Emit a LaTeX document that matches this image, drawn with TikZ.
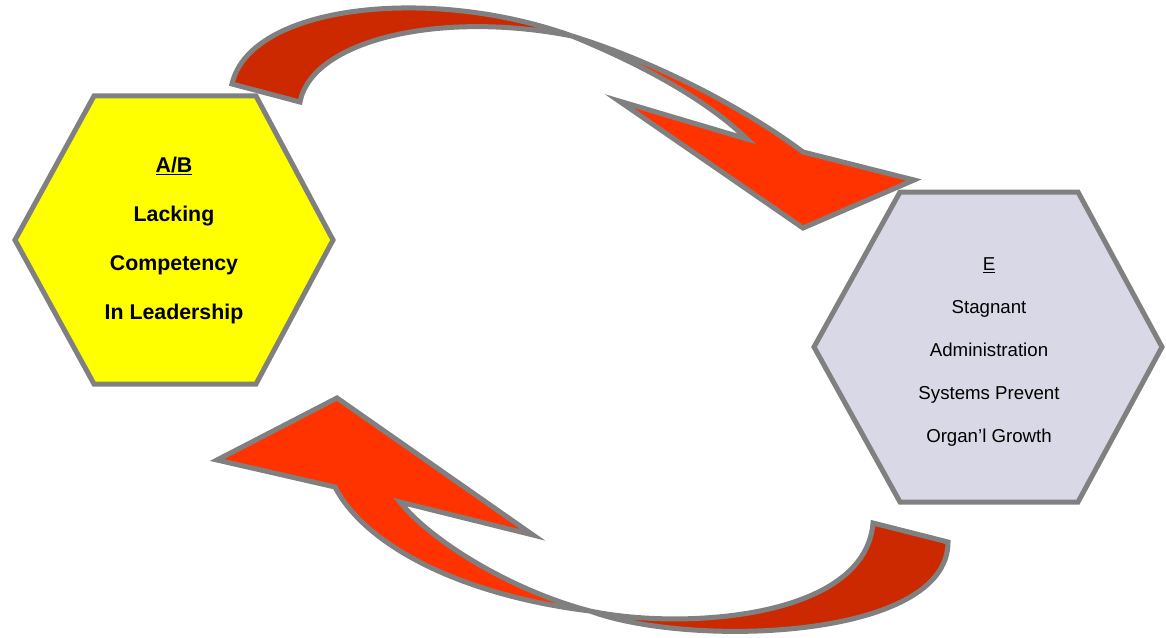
\documentclass[tikz,border=0pt]{standalone}
\usepackage{fontspec}
\setmainfont{Liberation Sans}
\definecolor{edgegray}{RGB}{128,128,128}
\definecolor{brightred}{RGB}{255,51,0}
\definecolor{darkred}{RGB}{204,41,0}
\definecolor{hexyellow}{RGB}{255,255,0}
\definecolor{hexlav}{RGB}{217,216,230}
\begin{document}
\begin{tikzpicture}[x=0.75pt,y=-0.75pt,
  outline/.style={draw=edgegray,line width=3.75pt,line join=miter,miter limit=10},
  hexbox/.style={draw=edgegray,line width=3.75pt,line join=miter},
  boldtext/.style={font=\fontsize{16}{36.75}\selectfont\bfseries,align=center,inner sep=0pt},
  plaintext/.style={font=\fontsize{14}{32.25}\selectfont,align=center,inner sep=0pt}]
\useasboundingbox (0,0) rectangle (1166,638);
% hexagons
\path[hexbox,fill=hexyellow] (94,96) -- (256,96) -- (333,240) -- (256,384) -- (94,384) -- (15,240) -- cycle;
\path[hexbox,fill=hexlav] (900,192) -- (1078,192) -- (1162,347) -- (1078,502) -- (900,502) -- (814,347) -- cycle;
% top arrow
\path[outline,fill=darkred] (232,84) .. controls (250,5) and (430,-15) .. (572,36)
  .. controls (440,10) and (312,40) .. (300,102) -- cycle;
\path[outline,fill=brightred] (572,36) .. controls (650,60) and (740,105) .. (803,152)
  -- (914,180) -- (803,228) -- (619,101) -- (747,139)
  .. controls (715,108) and (660,72) .. (572,36) -- cycle;
% bottom arrow
\path[outline,fill=brightred] (590,611) .. controls (460,595) and (365,545) .. (335,487)
  -- (217,460) -- (337,398) -- (533,535) -- (400,502)
  .. controls (430,540) and (510,590) .. (590,611) -- cycle;
\path[outline,fill=darkred] (590,611) .. controls (690,648) and (948,640) .. (948,542)
  -- (873,523) .. controls (865,620) and (680,630) .. (590,611) -- cycle;
% texts
\node[boldtext] (ab) at (174,240) {\underline{A/B}\\Lacking\\Competency\\In Leadership};
\node[plaintext] (e) at (989,352) {\underline{E}\\Stagnant\\Administration\\Systems Prevent\\Organ’l Growth};
\end{tikzpicture}
\end{document}
